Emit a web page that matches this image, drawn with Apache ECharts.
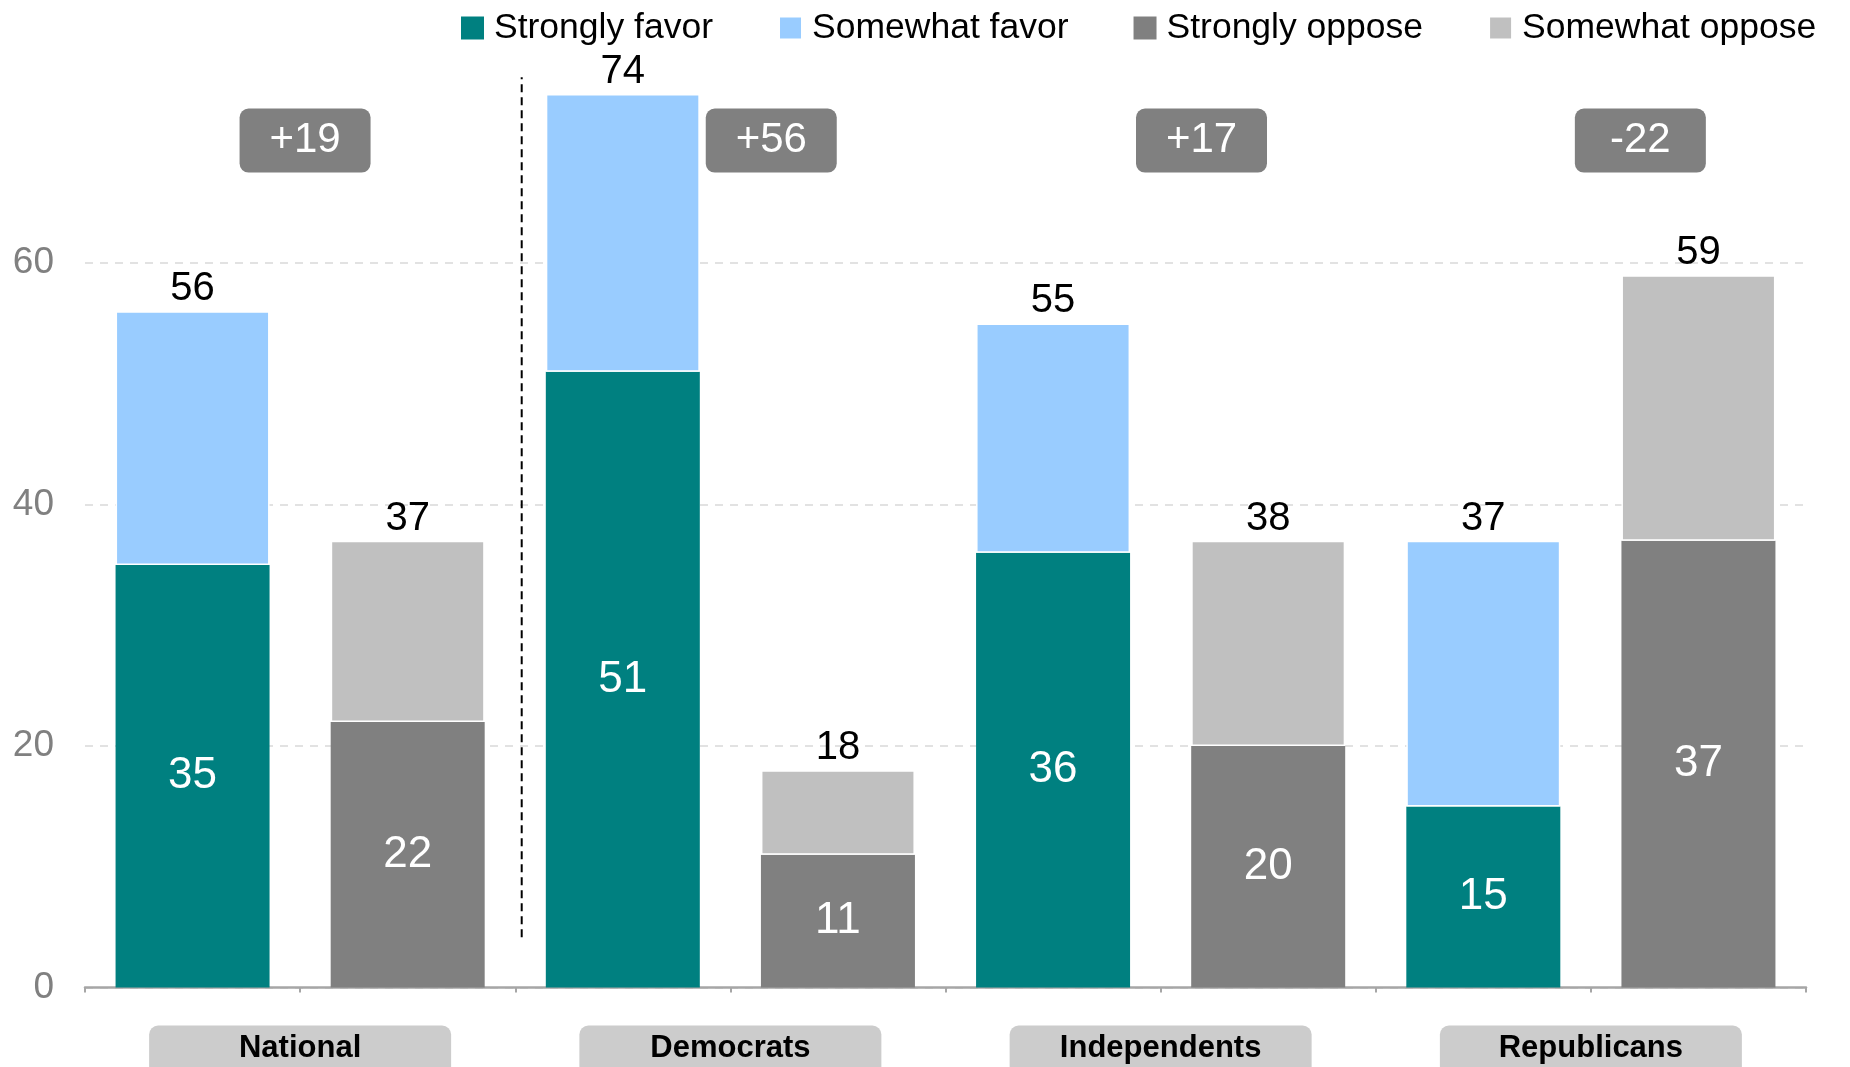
<!DOCTYPE html>
<html><head><meta charset="utf-8">
<script src="https://cdn.jsdelivr.net/npm/echarts@6/dist/echarts.min.js"></script>
<style>html,body{margin:0;padding:0;background:#fff}#c{width:1850px;height:1067px}</style>
</head><body><div id="c"></div>
<script>
// ---- data ----
const groups = ['National', 'Democrats', 'Independents', 'Republicans'];
const stronglyFavor = [35, 51, 36, 15];
const somewhatFavor = [21, 23, 19, 22];
const stronglyOppose = [22, 11, 20, 37];
const somewhatOppose = [15, 7, 17, 22];
const favorTotals = [56, 74, 55, 37];
const opposeTotals = [37, 18, 38, 59];
const netLabels = ['+19', '+56', '+17', '-22'];
const seriesNames = ['Strongly favor', 'Somewhat favor', 'Strongly oppose', 'Somewhat oppose'];

// ---- layout (annotation placement, not data) ----
const netBoxShift = [0.023, 0.19, 0.19, 0.23];
const netBoxY = 70.15;
const dividerX = 2.03;
const dividerY = [4.16, 75.4];

const FONT = "'Liberation Sans', Arial, sans-serif";
const colors = ['#008080', '#99ccff', '#808080', '#c0c0c0'];

const slots = groups.flatMap(g => [g + ' favor', g + ' oppose']);
const sfData = groups.flatMap((g, i) => [stronglyFavor[i], '-']);
const swfData = groups.flatMap((g, i) => [somewhatFavor[i], '-']);
const soData = groups.flatMap((g, i) => ['-', stronglyOppose[i]]);
const swoData = groups.flatMap((g, i) => ['-', somewhatOppose[i]]);
const totals = groups.flatMap((g, i) => [favorTotals[i], opposeTotals[i]]);

const innerLabel = {
  show: true, position: 'inside', color: '#fff', fontSize: 44, fontFamily: FONT,
  formatter: p => p.value
};
const topLabel = {
  show: true, position: 'top', distance: 2, color: '#000', fontSize: 40, fontFamily: FONT,
  formatter: p => totals[p.dataIndex]
};

const barBase = { type: 'bar', stack: 'all', barWidth: 154, xAxisIndex: 0, yAxisIndex: 0 };

const chart = echarts.init(document.getElementById('c'), null, { renderer: 'canvas' });
chart.setOption({
  animation: false,
  backgroundColor: '#fff',
  color: colors,
  textStyle: { fontFamily: FONT },
  legend: {
    data: seriesNames,
    left: 461, top: 10, padding: 0,
    itemWidth: 23, itemHeight: 23, itemGap: 65,
    icon: 'rect',
    textStyle: { fontSize: 35.5, color: '#000', fontFamily: FONT, padding: [0, 0, 0, 5] }
  },
  grid: { left: 85, right: 44, top: 21.6, bottom: 79.5, containLabel: false, outerBoundsMode: 'none' },
  xAxis: [
    {
      type: 'category', data: slots, position: 'bottom',
      axisLine: { show: true, lineStyle: { color: '#a6a6a6', width: 2.5 } },
      axisTick: { show: true, interval: 0, length: 5, lineStyle: { color: '#a6a6a6', width: 2 } },
      axisLabel: { show: false },
      splitLine: { show: false }
    },
    {
      type: 'category', data: groups, position: 'bottom',
      axisLine: { show: false }, axisTick: { show: false }, splitLine: { show: false },
      axisLabel: {
        interval: 0, margin: 38,
        fontSize: 31, fontWeight: 'bold', color: '#000', fontFamily: FONT,
        backgroundColor: '#cccccc', borderRadius: 9,
        width: 302, align: 'center', lineHeight: 34,
        padding: [6, 0, 30, 0]
      }
    },
    { type: 'value', min: 0, max: 8, show: false }
  ],
  yAxis: {
    type: 'value', min: 0, max: 80, interval: 20,
    axisLine: { show: false }, axisTick: { show: false },
    axisLabel: {
      fontSize: 37, color: '#808080', margin: 31, fontFamily: FONT,
      formatter: v => (v >= 80 ? '' : v)
    },
    splitLine: { show: true, showMaxLine: false, lineStyle: { color: '#d9d9d9', width: 1.5, type: [8, 7] } }
  },
  series: [
    Object.assign({}, barBase, { name: seriesNames[0], data: sfData, itemStyle: { color: colors[0] }, label: innerLabel }),
    Object.assign({}, barBase, { name: seriesNames[1], data: swfData, itemStyle: { color: colors[1], borderColor: '#fff', borderWidth: 1.5 }, label: topLabel }),
    Object.assign({}, barBase, { name: seriesNames[2], data: soData, itemStyle: { color: colors[2] }, label: innerLabel }),
    Object.assign({}, barBase, { name: seriesNames[3], data: swoData, itemStyle: { color: colors[3], borderColor: '#fff', borderWidth: 1.5 }, label: topLabel }),
    {
      type: 'line', xAxisIndex: 2, yAxisIndex: 0, silent: true, symbol: 'none', z: 3,
      data: [[dividerX, dividerY[0]], [dividerX, dividerY[1]]],
      lineStyle: { color: '#000', width: 2, type: [8, 5] }
    },
    {
      type: 'scatter', xAxisIndex: 2, yAxisIndex: 0, silent: true, symbolSize: 0, z: 5,
      itemStyle: { opacity: 1 },
      data: netLabels.map((t, i) => ({ value: [2 * i + 1 + netBoxShift[i], netBoxY], name: t })),
      label: {
        show: true, position: 'inside', formatter: p => p.name, opacity: 1,
        color: '#fff', fontSize: 42, fontFamily: FONT,
        backgroundColor: '#808080', borderRadius: 9,
        width: 131, height: 64, lineHeight: 64, align: 'center', verticalAlign: 'middle'
      }
    }
  ]
});
</script>
</body></html>
